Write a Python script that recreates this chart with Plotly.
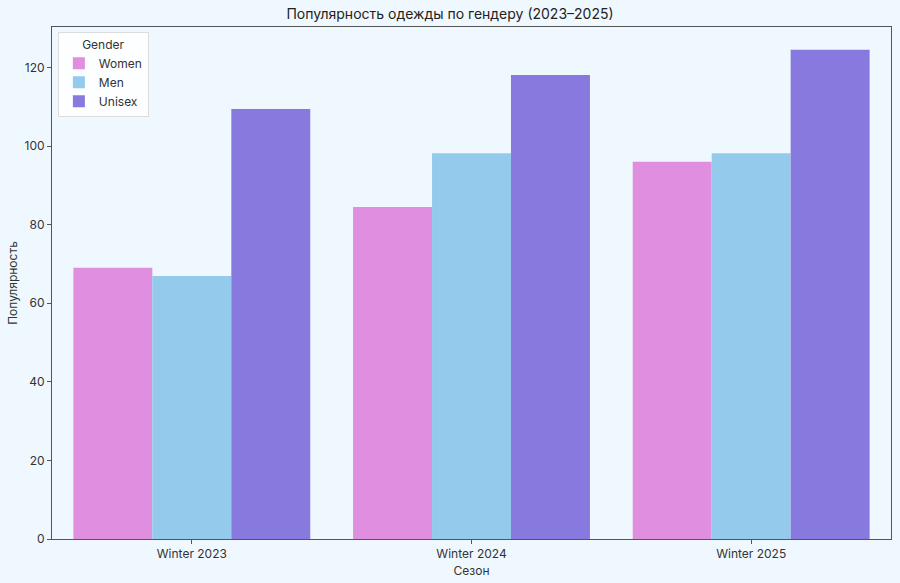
import plotly.graph_objects as go

seasons = ["Winter 2023", "Winter 2024", "Winter 2025"]
genders = ["Women", "Men", "Unisex"]
women = [69.0, 84.5, 96.0]
men = [66.9, 98.2, 98.2]
unisex = [109.4, 118.1, 124.5]
colors = ["#E08FE0", "#94CBEC", "#8879DF"]

series = [women, men, unisex]
font_family = "Inter, Lato, 'Noto Sans', sans-serif"

fig = go.Figure()
for name, vals, col in zip(genders, series, colors):
    fig.add_trace(go.Bar(
        x=seasons, y=vals, name=name,
        marker=dict(color=col, line=dict(width=0)),
    ))

fig.update_layout(
    width=900, height=583,
    barmode="group", bargap=0.153, bargroupgap=0,
    paper_bgcolor="#F0F8FF", plot_bgcolor="#F0F8FF",
    margin=dict(l=52, r=9, t=27, b=44, autoexpand=False),
    font=dict(family=font_family, size=12, color="#333333"),
    title=dict(text="Популярность одежды по гендеру (2023–2025)",
               x=0.5, xanchor="center", y=0.976, yanchor="middle",
               font=dict(size=14, color="#222222")),
    legend=dict(title=dict(text="Gender", side="top center", font=dict(size=12)),
                x=0.007, y=0.99, xanchor="left", yanchor="top",
                bgcolor="rgba(255,255,255,0.8)", bordercolor="#DDDDDD", borderwidth=1,
                font=dict(size=12), itemwidth=30, tracegroupgap=0),
    showlegend=True,
)
fig.update_xaxes(
    range=[-0.5, 2.5], showgrid=False, showline=True, linecolor="#555555", linewidth=1,
    mirror=True, ticks="outside", ticklen=4, tickcolor="#555555",
    title=dict(text="Сезон", font=dict(size=12), standoff=6),
)
fig.update_yaxes(
    range=[0, 130.3], showgrid=False, showline=True, linecolor="#555555", linewidth=1,
    mirror=True, ticks="outside", ticklen=4, tickcolor="#555555",
    tickvals=[0, 20, 40, 60, 80, 100, 120], zeroline=False,
    title=dict(text="Популярность", font=dict(size=12), standoff=4),
)

fig.write_html(
    "out.html",
    config={"displayModeBar": False},
    post_script="document.body.style.margin='0';document.body.style.background='#F0F8FF';",
)
